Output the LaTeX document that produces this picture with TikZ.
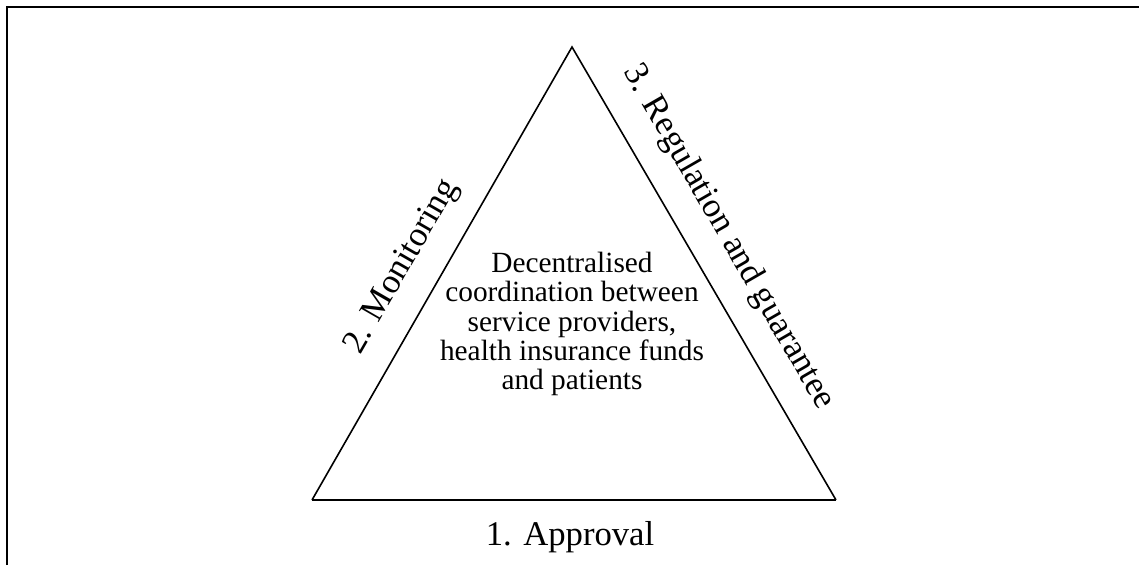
\documentclass[tikz,border=0pt]{standalone}
\usepackage{fontspec}
\setmainfont{Liberation Serif}
\begin{document}
\begin{tikzpicture}[x=0.75pt,y=0.75pt,
    lado/.style={font=\fontsize{26}{30}\selectfont,inner sep=0pt},
    centro/.style={align=center,font=\fontsize{22}{22.1}\selectfont}]
    \useasboundingbox (0,0) rectangle (1139,565);
    % Marco
    \draw[line width=2pt] (7,0) -- (7,558) -- (1139,558);

    % Triangulo
    \coordinate (apex) at (572,518);
    \coordinate (izq) at (312,65);
    \coordinate (der) at (836,65);
    \draw[line width=1.2pt] (izq) -- (apex) -- (der);
    \draw[line width=2.2pt] (izq) -- (der);

    % Textos
    \node[centro] (coord) at (572,241) {Decentralised\\coordination between\\service providers,\\health insurance funds\\and patients};
    \node[lado,anchor=base] (aprob) at (570,20) {1. Approval};
    \node[lado,anchor=base,rotate=60] (monit) at (409,294) {2. Monitoring};
    \node[lado,anchor=base,rotate=-60] (regul) at (721,324) {3. Regulation and guarantee};
\end{tikzpicture}
\end{document}
